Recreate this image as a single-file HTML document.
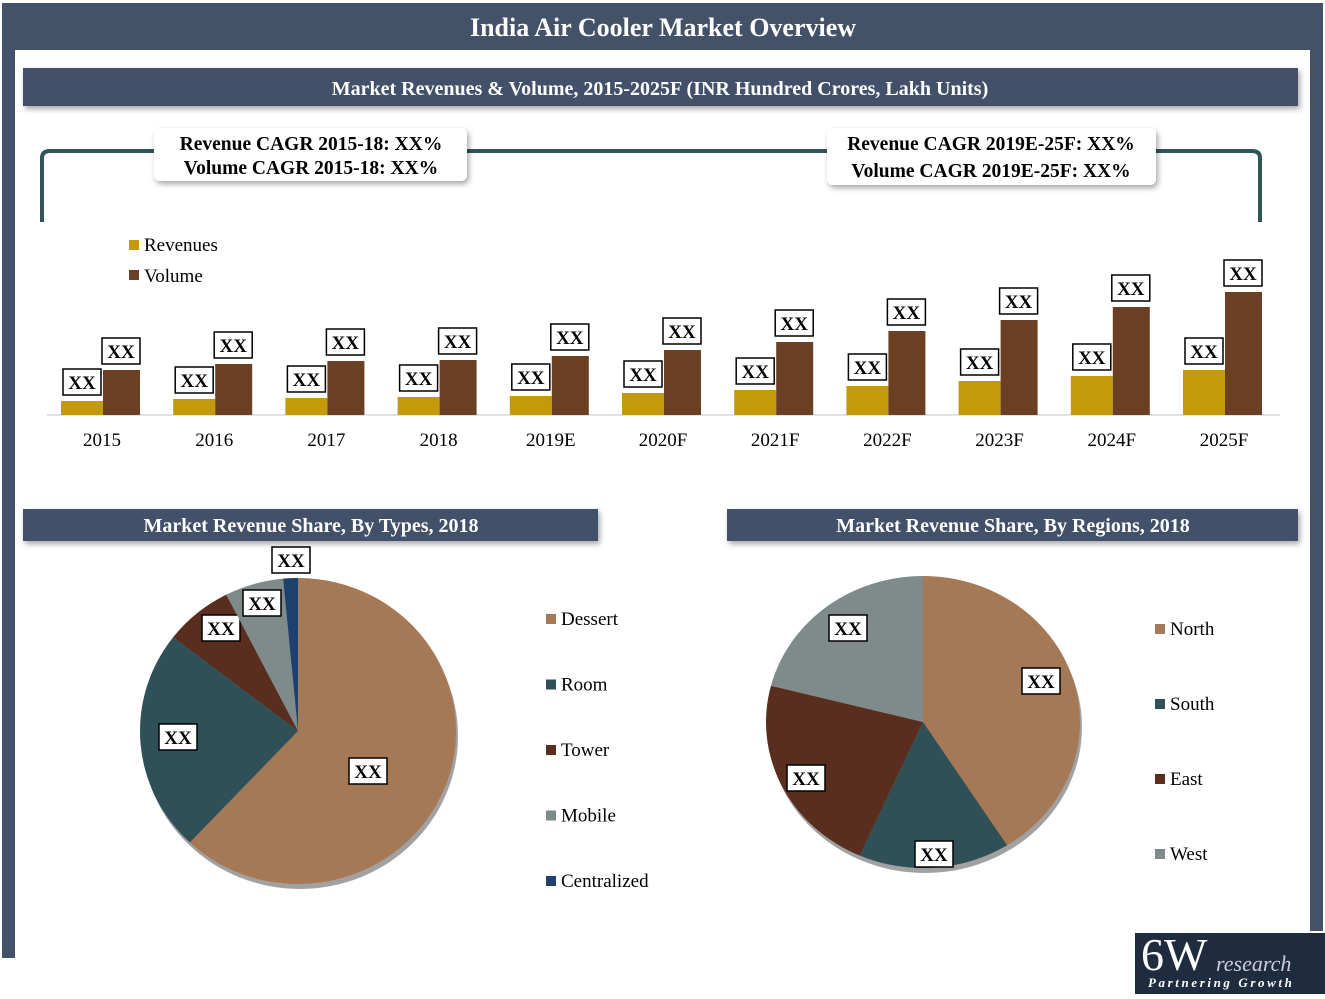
<!DOCTYPE html>
<html><head><meta charset="utf-8"><style>
body{margin:0;width:1325px;height:994px;overflow:hidden;background:#fff;font-family:"Liberation Serif",serif;}
svg text{font-family:"Liberation Serif",serif;}
</style></head><body>
<svg width="1325" height="994">
<defs>
<filter id="sh" x="-20%" y="-20%" width="140%" height="160%"><feDropShadow dx="2" dy="3" stdDeviation="3" flood-opacity="0.35"/></filter>
</defs>
<rect x="2" y="3" width="1321" height="47" fill="#435169"/>
<rect x="2" y="3" width="13" height="955" fill="#435169"/>
<rect x="1310" y="3" width="13" height="928" fill="#435169"/>
<text x="663" y="36" text-anchor="middle" font-size="26" font-weight="bold" fill="#fff">India Air Cooler Market Overview</text>
<rect x="23" y="68" width="1275" height="38" fill="#435169" filter="url(#sh)"/>
<text x="660" y="95" text-anchor="middle" font-size="20" font-weight="bold" fill="#fff">Market Revenues &amp; Volume, 2015-2025F (INR Hundred Crores, Lakh Units)</text>
<path d="M42,222 V158 Q42,151 50,151 H1252 Q1260,151 1260,158 V222" fill="none" stroke="#2f5558" stroke-width="4"/>
<rect x="154" y="128" width="313" height="53" rx="6" fill="#fff" filter="url(#sh)"/>
<text x="311" y="150" text-anchor="middle" font-size="19.5" font-weight="bold">Revenue CAGR 2015-18: XX%</text>
<text x="311" y="174" text-anchor="middle" font-size="19.5" font-weight="bold">Volume CAGR 2015-18: XX%</text>
<rect x="827" y="128" width="329" height="57" rx="6" fill="#fff" filter="url(#sh)"/>
<text x="991" y="150" text-anchor="middle" font-size="19.5" font-weight="bold">Revenue CAGR 2019E-25F: XX%</text>
<text x="991" y="177" text-anchor="middle" font-size="19.5" font-weight="bold">Volume CAGR 2019E-25F: XX%</text>
<rect x="129" y="240" width="10" height="10" fill="#c29a0c"/>
<text x="144" y="251" font-size="19">Revenues</text>
<rect x="129" y="270" width="10" height="10" fill="#6b3f24"/>
<text x="144" y="282" font-size="19">Volume</text>
<line x1="47" y1="415" x2="1280" y2="415" stroke="#d8d8d8" stroke-width="1.5"/>
<g id="bars"></g>
<rect x="23" y="509" width="575" height="32" fill="#435169" filter="url(#sh)"/>
<text x="311" y="532" text-anchor="middle" font-size="20" font-weight="bold" fill="#fff">Market Revenue Share, By Types, 2018</text>
<rect x="727" y="509" width="571" height="32" fill="#435169" filter="url(#sh)"/>
<text x="1013" y="532" text-anchor="middle" font-size="20" font-weight="bold" fill="#fff">Market Revenue Share, By Regions, 2018</text>
<g id="pies"></g>
<rect x="1135" y="933" width="190" height="61" fill="#1f2b3f"/>
<text x="1141" y="970" font-size="46" fill="#fff">6W</text>
<text x="1216" y="971" font-size="22" font-style="italic" fill="#ccd">research</text>
<text x="1148" y="987" font-size="13" font-style="italic" font-weight="bold" letter-spacing="2.6" fill="#fff" font-family="Liberation Sans">Partnering Growth</text>
</svg>
<script>
const categories=["2015","2016","2017","2018","2019E","2020F","2021F","2022F","2023F","2024F","2025F"];
const revenues=[14,16,17,18,19,22,25,29,34,39,45];
const volume=[45,51,54,55,59,65,73,84,95,108,123];
const typeLabels=["Dessert","Room","Tower","Mobile","Centralized"];
const typeShares=[62,23.5,7,6,1.5];
const regionLabels=["North","South","East","West"];
const regionShares=[41,15.6,22.4,21];
const NS="http://www.w3.org/2000/svg";
function mk(t,a,p){const e=document.createElementNS(NS,t);for(const k in a)e.setAttribute(k,a[k]);p.appendChild(e);return e;}
const base=415, scale=1.0;
const xC=i=>102+112.2*i;
const yV=v=>base-v*scale;
const bars=document.getElementById('bars');
function labelBox(cx,top,p){
  const r=mk('rect',{x:cx-19,y:top-32,width:38,height:26,fill:'#fff',stroke:'#000','stroke-width':1.5},p);
  
  
  const t=mk('text',{x:cx,y:top-12,'text-anchor':'middle','font-size':19,'font-weight':'bold'},p);
  t.textContent='XX';
  
  
}
categories.forEach((c,i)=>{
  const cx=xC(i);
  const r=mk('rect',{x:cx-41,y:yV(revenues[i]),width:42,height:base-yV(revenues[i]),fill:'#c29a0c'},bars);
  
  
  const v=mk('rect',{x:cx+1,y:yV(volume[i]),width:37,height:base-yV(volume[i]),fill:'#6b3f24'},bars);
  
  
  labelBox(cx-20,yV(revenues[i]),bars);
  labelBox(cx+19,yV(volume[i]),bars);
  const t=mk('text',{x:cx,y:446,'text-anchor':'middle','font-size':19},bars);
  t.textContent=c;
  
  
});
const pies=document.getElementById('pies');
function pie(cx,cy,rx,ry,shares,labels,colors,name,labelPos,legX,legY,legStep){
  mk('ellipse',{cx:cx+2,cy:cy+5,rx:rx,ry:ry,fill:'#444',opacity:0.5},pies);
  const tot=shares.reduce((a,b)=>a+b,0);let a0=0;
  shares.forEach((s,i)=>{
    const a1=a0+s/tot*2*Math.PI;
    const p0=[cx+rx*Math.sin(a0),cy-ry*Math.cos(a0)],p1=[cx+rx*Math.sin(a1),cy-ry*Math.cos(a1)];
    const d=`M${cx},${cy} L${p0[0]},${p0[1]} A${rx},${ry} 0 ${a1-a0>Math.PI?1:0} 1 ${p1[0]},${p1[1]} Z`;
    const p=mk('path',{d:d,fill:colors[i]},pies);
    
    
    const lp=labelPos[i];
    if(lp){labelBox(lp[0],lp[1]+32-13,pies);}
    const sw=mk('rect',{x:legX,y:legY+i*legStep-10,width:10,height:10,fill:colors[i]},pies);
    
    
    const t=mk('text',{x:legX+15,y:legY+i*legStep+1,'font-size':19},pies);
    t.textContent=labels[i];
    
    
    a0=a1;
  });
}
pie(298,731,158,153,typeShares,typeLabels,['#a67956','#2f5057','#5a2e1e','#7f8b8b','#1f3f6e'],'types',
  [[368,771],[178,737],[221,628],[262,603],[291,560]],546,624,65.5);
pie(923,722,157,146,regionShares,regionLabels,['#a67956','#2f5057','#5a2e1e','#7f8b8b'],'regions',
  [[1041,681],[934,854],[806,778],[848,628]],1155,634,75);
</script>
</body></html>
